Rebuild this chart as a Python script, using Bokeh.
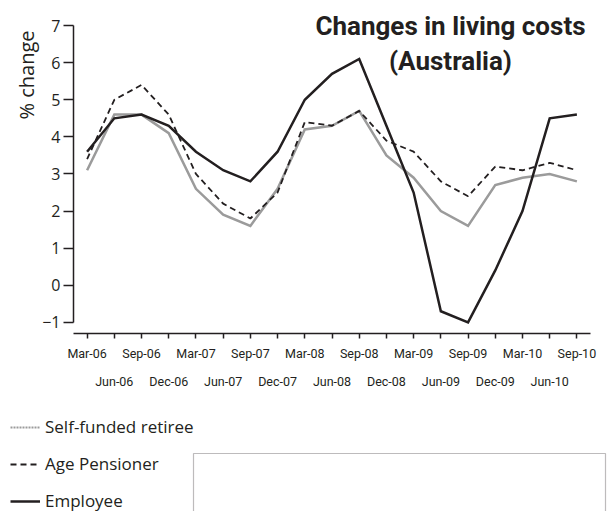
import math
from bokeh.plotting import figure
from bokeh.models import (Range1d, LinearAxis, FixedTicker, Label, Legend, Title,
                          LegendItem, BoxAnnotation, ColumnDataSource)
from bokeh.embed import file_html
from bokeh.resources import INLINE

quarters = ["Mar-06", "Jun-06", "Sep-06", "Dec-06", "Mar-07", "Jun-07", "Sep-07",
            "Dec-07", "Mar-08", "Jun-08", "Sep-08", "Dec-08", "Mar-09", "Jun-09",
            "Sep-09", "Dec-09", "Mar-10", "Jun-10", "Sep-10"]
self_funded = [3.1, 4.6, 4.6, 4.1, 2.6, 1.9, 1.6, 2.6, 4.2, 4.3, 4.7, 3.5, 2.9,
               2.0, 1.6, 2.7, 2.9, 3.0, 2.8]
age_pensioner = [3.4, 5.0, 5.4, 4.6, 3.0, 2.2, 1.8, 2.5, 4.4, 4.3, 4.7, 3.9, 3.6,
                 2.8, 2.4, 3.2, 3.1, 3.3, 3.1]
employee = [3.6, 4.5, 4.6, 4.3, 3.6, 3.1, 2.8, 3.6, 5.0, 5.7, 6.1, 4.3, 2.5,
            -0.7, -1.0, 0.4, 2.0, 4.5, 4.6]
y_ticks = [-1, 0, 1, 2, 3, 4, 5, 6, 7]
series_names = ["Self-funded retiree", "Age Pensioner", "Employee"]
title_lines = ["Changes in living costs", "(Australia)"]
y_label = "% change"

INK = "#231f20"
GREY = "#9b9b9b"
NARROW = "Roboto"
BODY = "Open Sans"
LEFT = 73     # frame left edge (px)
FRAME_W = 517

xs = list(range(len(quarters)))
src = ColumnDataSource(dict(x=xs, quarter=quarters, sf=self_funded,
                            ap=age_pensioner, em=employee))

p = figure(frame_width=FRAME_W, frame_height=325,
           x_range=Range1d(-0.5, len(quarters) - 0.5),
           y_range=Range1d(-1.3, 7.46),
           x_axis_location=None, y_axis_location=None,
           output_backend="svg", toolbar_location=None,
           min_border_left=LEFT, min_border_right=18,
           min_border_top=8, min_border_bottom=0)
p.outline_line_color = None
p.xgrid.visible = False
p.ygrid.visible = False
p.background_fill_color = "white"

# y axis
yaxis = LinearAxis(ticker=FixedTicker(ticks=y_ticks), bounds=(-1, 7))
yaxis.major_label_overrides = {-1: "\u22121"}
yaxis.axis_line_color = INK
yaxis.axis_line_width = 1.5
yaxis.major_tick_line_color = INK
yaxis.major_tick_line_width = 1.5
yaxis.major_tick_in = 0
yaxis.major_tick_out = 10
yaxis.minor_tick_line_color = None
yaxis.major_label_standoff = 3
yaxis.major_label_text_font = BODY
yaxis.major_label_text_font_size = "16px"
yaxis.major_label_text_color = INK
p.add_layout(yaxis, "left")

# y-axis caption, set at the top end of the axis
ylab = Title(text=y_label, align="right", offset=22, standoff=0,
             text_font=BODY, text_font_size="20px", text_font_style="normal",
             text_color=INK)
p.add_layout(ylab, "left")

# x axis (row 1 with all ticks, even labels)
xaxis = LinearAxis(ticker=FixedTicker(ticks=xs))
xaxis.major_label_overrides = {i: (q if i % 2 == 0 else " ") for i, q in enumerate(quarters)}
xaxis.axis_line_color = INK
xaxis.axis_line_width = 1.5
xaxis.major_tick_line_color = INK
xaxis.major_tick_line_width = 1.5
xaxis.major_tick_in = 0
xaxis.major_tick_out = 5
xaxis.minor_tick_line_color = None
xaxis.major_label_standoff = 7
xaxis.major_label_text_font = NARROW
xaxis.major_label_text_font_size = "12.5px"
xaxis.major_label_text_color = INK
p.add_layout(xaxis, "below")

# x axis (row 2, odd labels)
xaxis2 = LinearAxis(ticker=FixedTicker(ticks=xs[1::2]))
xaxis2.major_label_overrides = {i: quarters[i] for i in xs[1::2]}
xaxis2.axis_line_color = None
xaxis2.major_tick_line_color = None
xaxis2.major_tick_in = 0
xaxis2.major_tick_out = 0
xaxis2.minor_tick_line_color = None
xaxis2.major_label_standoff = 10
xaxis2.major_label_text_font = NARROW
xaxis2.major_label_text_font_size = "12.5px"
xaxis2.major_label_text_color = INK
p.add_layout(xaxis2, "below")

# series
p.line("x", "sf", source=src, line_color=GREY, line_width=2.5, line_join="miter")
p.line("x", "ap", source=src, line_color=INK, line_width=1.8, line_dash="6 4")
p.line("x", "em", source=src, line_color=INK, line_width=2.5, line_join="miter")

# title
p.add_layout(Label(x=377, y=308, x_units="screen", y_units="screen", text=title_lines[0],
                   text_align="center", text_baseline="alphabetic",
                   text_font=NARROW, text_font_style="bold",
                   text_font_size="26px", text_color=INK))
p.add_layout(Label(x=377, y=273, x_units="screen", y_units="screen", text=title_lines[1],
                   text_align="center", text_baseline="alphabetic",
                   text_font=NARROW, text_font_style="bold",
                   text_font_size="26px", text_color=INK))

# legend panel: a separate root so that its frame spans the full width
H2 = 120
W2 = 608
nan = float("nan")
p2 = figure(width=W2, height=H2, x_range=Range1d(0, W2), y_range=Range1d(0, H2),
            x_axis_location=None, y_axis_location=None,
            output_backend="svg", toolbar_location=None, min_border=0)
p2.outline_line_color = None
p2.xgrid.visible = False
p2.ygrid.visible = False
r1 = p2.line(x=[nan], y=[nan], line_color=GREY, line_width=2, line_dash="2 1")
r2 = p2.line(x=[nan], y=[nan], line_color=INK, line_width=2, line_dash="6 4")
r3 = p2.line(x=[nan], y=[nan], line_color=INK, line_width=2.5)
legend = Legend(items=[LegendItem(label=series_names[0], renderers=[r1]),
                       LegendItem(label=series_names[1], renderers=[r2]),
                       LegendItem(label=series_names[2], renderers=[r3])],
                location=(10, -1), orientation="vertical",
                glyph_width=30, glyph_height=20, label_height=20, spacing=14,
                padding=0, margin=0, label_standoff=5,
                border_line_color=None, background_fill_alpha=0,
                label_text_font=BODY, label_text_font_size="17px",
                label_text_color=INK)
p2.add_layout(legend)
p2.add_layout(BoxAnnotation(left=193, right=605, top=58, bottom=-50,
                            fill_alpha=0, line_color=INK, line_width=1.2))

open("out.html", "w").write(file_html([p, p2], INLINE))
